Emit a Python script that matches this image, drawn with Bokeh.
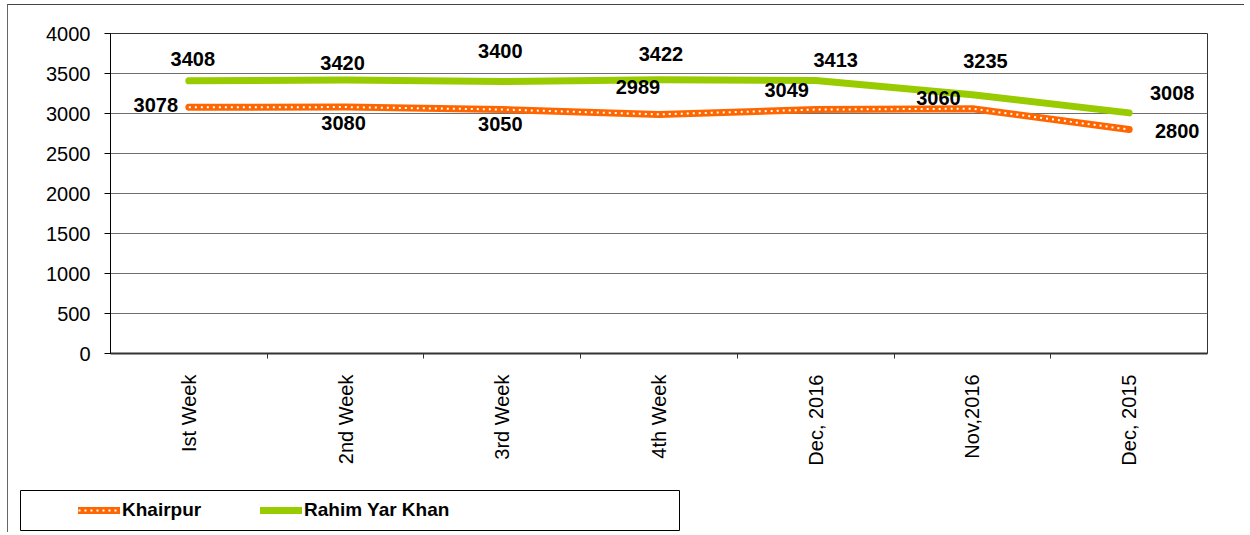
import math
from bokeh.plotting import figure
from bokeh.layouts import column, row
from bokeh.models import (ColumnDataSource, LabelSet, Legend, LegendItem,
                          FixedTicker, Range1d)
from bokeh.core.properties import value
from bokeh.embed import file_html
from bokeh.resources import INLINE

categories = ["Ist Week", "2nd Week", "3rd Week", "4th Week",
              "Dec, 2016", "Nov,2016", "Dec, 2015"]
khairpur = [3078, 3080, 3050, 2989, 3049, 3060, 2800]
rahim_yar_khan = [3408, 3420, 3400, 3422, 3413, 3235, 3008]
y_ticks = [0, 500, 1000, 1500, 2000, 2500, 3000, 3500, 4000]

# label placement (screen-pixel offsets, layout only)
k_dx = [-33, -2, -2, -21, -29, -34, 48]
k_dy = [2, -16, -14, 27, 20, 11, -1]
r_dx = [4, -3, -2, 2, 20, 13, 43]
r_dy = [22, 17, 31, 26, 20, 34, 20]

FONT = "Liberation Sans"
xs = list(range(len(categories)))

p = figure(width=1236, height=473, output_backend="svg", toolbar_location=None,
           x_range=Range1d(-0.5, len(categories) - 0.5), y_range=Range1d(0, 4000),
           min_border_left=102, min_border_right=37, min_border_top=28,
           min_border_bottom=125)
p.background_fill_color = "white"
p.border_fill_color = "white"
p.outline_line_color = "#333333"
p.outline_line_width = 1

# axes
p.yaxis.ticker = FixedTicker(ticks=y_ticks)
p.yaxis.axis_line_color = "black"
p.yaxis.major_tick_out = 6
p.yaxis.major_tick_in = 0
p.yaxis.minor_tick_line_color = None
p.yaxis.major_label_text_font = FONT
p.yaxis.major_label_text_font_size = "20px"
p.yaxis.major_label_text_color = "black"
p.yaxis.major_label_standoff = 14

p.xaxis.ticker = FixedTicker(ticks=xs, minor_ticks=[i + 0.5 for i in xs[:-1]])
p.xaxis.major_label_overrides = {i: c for i, c in zip(xs, categories)}
p.xaxis.major_tick_line_color = None
p.xaxis.minor_tick_out = 5
p.xaxis.minor_tick_in = 0
p.xaxis.minor_tick_line_color = "#333333"
p.xaxis.axis_line_color = "#333333"
p.xaxis.axis_line_width = 2
p.xaxis.major_label_orientation = math.pi / 2
p.xaxis.major_label_text_font = FONT
p.xaxis.major_label_text_font_size = "20px"
p.xaxis.major_label_text_color = "black"
p.xaxis.major_label_standoff = 15

p.xgrid.grid_line_color = None
p.ygrid.ticker = FixedTicker(ticks=y_ticks)
p.ygrid.grid_line_color = "#6f6f6f"
p.ygrid.grid_line_width = 1

src = ColumnDataSource(dict(x=xs, k=khairpur, r=rahim_yar_khan,
                            kl=[str(v) for v in khairpur],
                            rl=[str(v) for v in rahim_yar_khan],
                            kdx=k_dx, kdy=k_dy, rdx=r_dx, rdy=r_dy))

R_STYLE = dict(line_color="#99CC00", line_width=7, line_cap="round", line_join="round")
K_STYLE = dict(line_color="#FF6600", line_width=7, line_cap="round", line_join="round")
D_STYLE = dict(line_color="white", line_width=2, line_dash="2 4")

p.line("x", "r", source=src, **R_STYLE)
p.line("x", "k", source=src, **K_STYLE)
p.line("x", "k", source=src, **D_STYLE)

for txt, yf, dx, dy in (("kl", "k", "kdx", "kdy"), ("rl", "r", "rdx", "rdy")):
    p.add_layout(LabelSet(x="x", y=yf, text=txt, source=src,
                          x_offset=dx, y_offset=dy,
                          text_font=value(FONT), text_font_size="20px",
                          text_font_style="bold", text_color="black",
                          text_align="center", text_baseline="middle"))

# legend panel (its frame outline is the legend box)
lf = figure(width=672, height=54, output_backend="svg", toolbar_location=None,
            x_range=Range1d(-0.5, len(categories) - 0.5), y_range=Range1d(0, 1),
            x_axis_type=None, y_axis_type=None,
            min_border_left=12, min_border_right=0, min_border_top=12,
            min_border_bottom=2)
lf.grid.visible = False
lf.outline_line_color = "black"
lf.outline_line_width = 1
lf.background_fill_color = "white"
lf.border_fill_color = "white"
lk = lf.line("x", "k", source=src, **K_STYLE)
ld = lf.line("x", "k", source=src, **D_STYLE)
lr = lf.line("x", "r", source=src, **R_STYLE)

legend = Legend(items=[LegendItem(label="Khairpur", renderers=[lk, ld]),
                       LegendItem(label="Rahim Yar Khan", renderers=[lr])],
                location="left", orientation="horizontal",
                glyph_width=42, glyph_height=14, label_standoff=2,
                label_width=80, spacing=58, padding=4, margin=58,
                label_text_font=FONT, label_text_font_size="19px",
                label_text_font_style="bold", label_text_color="black",
                border_line_color=None, background_fill_alpha=0)
lf.add_layout(legend, "center")

page = column(p, row(lf), spacing=0,
              styles={"margin-left": "7px", "margin-top": "4px",
                      "border-top": "1px solid #444",
                      "border-left": "1px solid #666"})

open("out.html", "w").write(file_html(page, INLINE))
